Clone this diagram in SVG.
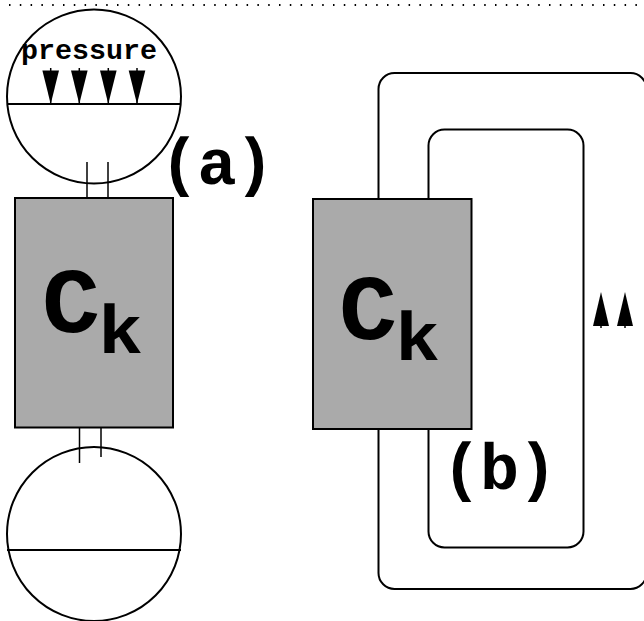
<svg xmlns="http://www.w3.org/2000/svg" width="644" height="621" viewBox="0 0 644 621">
  <style>
    .ln { fill: none; stroke: #000; stroke-width: 2; }
    .thin { fill: none; stroke: #000; stroke-width: 1.5; }
    .box { fill: #aaaaaa; stroke: #000; stroke-width: 2; }
    .mono { font-family: "Liberation Mono", "Courier New", monospace; font-weight: bold; fill: #000; }
    .tri { fill: #000; stroke: none; }
  </style>

  <!-- dotted top border -->
  <line x1="9" y1="5" x2="644" y2="5" stroke="#000" stroke-width="2" stroke-dasharray="1.5 9.3" />

  <!-- connectors: feed lines and loops -->
  <g id="connectors">
    <line class="thin" x1="87" y1="162" x2="87" y2="218" />
    <line class="thin" x1="108" y1="162" x2="108" y2="218" />
    <line class="thin" x1="79.5" y1="407" x2="79.5" y2="463" />
    <line class="thin" x1="101" y1="399" x2="101" y2="457" />
    <rect class="ln" x="378.5" y="73" width="268" height="516" rx="16" />
    <rect class="ln" x="428.5" y="129.5" width="155" height="418" rx="16" />
  </g>

  <!-- (a) upper chamber with pressure -->
  <g id="chamber-top">
    <circle class="ln" cx="94" cy="96.5" r="87" />
    <line class="ln" x1="7" y1="104" x2="181" y2="104" />
    <text class="mono" x="21" y="59" font-size="27" textLength="136" lengthAdjust="spacingAndGlyphs">pressure</text>
    <g>
      <line class="thin" x1="50.7" y1="68" x2="50.7" y2="104" />
      <polygon class="tri" points="42.4,70.5 59,70.5 50.7,104" />
      <line class="thin" x1="79.3" y1="68" x2="79.3" y2="104" />
      <polygon class="tri" points="71,70.5 87.6,70.5 79.3,104" />
      <line class="thin" x1="108.3" y1="68" x2="108.3" y2="104" />
      <polygon class="tri" points="100,70.5 116.6,70.5 108.3,104" />
      <line class="thin" x1="137" y1="68" x2="137" y2="104" />
      <polygon class="tri" points="128.7,70.5 145.3,70.5 137,104" />
    </g>
  </g>

  <!-- (a) lower chamber -->
  <g id="chamber-bottom">
    <circle class="ln" cx="94" cy="534" r="87" />
    <line class="ln" x1="7" y1="550" x2="181" y2="550" />
  </g>

  <!-- (a) component block -->
  <g id="block-a">
    <rect class="box" x="15" y="198" width="158" height="229.5" />
    <text class="mono" x="42" y="332" font-size="92" textLength="58" lengthAdjust="spacingAndGlyphs">C</text>
    <text class="mono" x="98" y="353" font-size="68" textLength="45" lengthAdjust="spacingAndGlyphs">k</text>
  </g>

  <g id="label-a">
    <text class="mono" x="160" y="184" font-size="65" textLength="114">(a)</text>
  </g>

  <!-- (b) component block -->
  <g id="block-b">
    <rect class="box" x="313" y="199" width="158.5" height="230" />
    <text class="mono" x="339" y="339" font-size="92" textLength="58" lengthAdjust="spacingAndGlyphs">C</text>
    <text class="mono" x="395" y="360" font-size="68" textLength="45" lengthAdjust="spacingAndGlyphs">k</text>
  </g>

  <g id="label-b">
    <text class="mono" x="442" y="489" font-size="65" textLength="115">(b)</text>
  </g>

  <!-- flow direction arrows on the return path -->
  <g id="flow-arrows">
    <line class="thin" x1="601" y1="300" x2="601" y2="328" />
    <polygon class="tri" points="601,292 593,326 609,326" />
    <line class="thin" x1="625" y1="300" x2="625" y2="328" />
    <polygon class="tri" points="625,292 617,326 633,326" />
  </g>
</svg>
